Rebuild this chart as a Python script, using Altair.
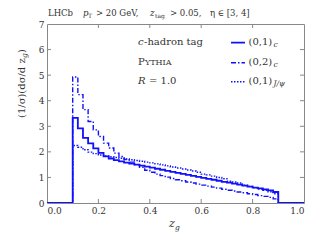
import altair as alt
import pandas as pd

# bin left edges 0.10 ... 0.88 (width 0.02)
edges = [round(0.10 + 0.02 * i, 2) for i in range(40)]
c01 = [3.33, 2.92, 2.55, 2.33, 2.14, 1.96, 1.82, 1.74, 1.68, 1.63,
       1.58, 1.54, 1.50, 1.46, 1.42, 1.38, 1.34, 1.30, 1.26, 1.22,
       1.18, 1.14, 1.10, 1.06, 1.02, 0.98, 0.94, 0.91, 0.87, 0.83,
       0.80, 0.76, 0.72, 0.68, 0.64, 0.60, 0.57, 0.53, 0.49, 0.43]
c02 = [4.93, 4.24, 3.65, 3.19, 2.86, 2.60, 2.34, 2.15, 1.95, 1.82,
       1.70, 1.60, 1.50, 1.40, 1.28, 1.20, 1.13, 1.07, 1.01, 0.96,
       0.91, 0.87, 0.82, 0.78, 0.74, 0.70, 0.66, 0.62, 0.58, 0.54,
       0.50, 0.47, 0.43, 0.40, 0.36, 0.33, 0.29, 0.26, 0.22, 0.16]
jpsi = [2.25, 2.18, 2.08, 1.99, 1.93, 1.88, 1.84, 1.81, 1.78, 1.75,
        1.72, 1.69, 1.66, 1.63, 1.60, 1.57, 1.53, 1.49, 1.45, 1.41,
        1.37, 1.33, 1.29, 1.25, 1.20, 1.13, 1.10, 1.05, 1.00, 0.95,
        0.85, 0.82, 0.78, 0.70, 0.65, 0.60, 0.55, 0.50, 0.44, 0.36]
series = ["(0,1)c", "(0,2)c", "(0,1)J/psi"]
xticks = [0.0, 0.2, 0.4, 0.6, 0.8, 1.0]
yticks = [0, 1, 2, 3, 4, 5, 6, 7]

W, H = 257, 179
BLUE = "#1010ff"
SERIF = "DejaVu Serif"
TXT = "#333333"

rows = []
for name, vals in zip(series, [c01, c02, jpsi]):
    rows.append({"s": name, "x": 0.0, "y": 0.0})
    for e, v in zip(edges, vals):
        rows.append({"s": name, "x": e, "y": v})
    rows.append({"s": name, "x": 0.9, "y": 0.0})
    rows.append({"s": name, "x": 1.0, "y": 0.0})
df = pd.DataFrame(rows)

xs = alt.Scale(domain=[0, 1], nice=False)
ys = alt.Scale(domain=[0, 7], nice=False)
xaxis = alt.Axis(values=xticks, format=".1f", title=None, tickSize=0,
                 labelPadding=3, domain=False, grid=False, labelOverlap=False)
yaxis = alt.Axis(values=yticks, format="d", title=None, tickSize=0,
                 labelPadding=3, domain=False, grid=False, labelOverlap=False)

dashes = {"(0,1)c": [1, 0], "(0,2)c": [5, 2, 1.5, 2], "(0,1)J/psi": [1.5, 1.5]}
widths = {"(0,1)c": 1.8, "(0,2)c": 1.4, "(0,1)J/psi": 1.4}

base = alt.Chart(df)
lines = []
for name in series:
    lines.append(
        base.transform_filter(alt.datum.s == name)
        .mark_line(interpolate="step-after", color=BLUE, strokeWidth=widths[name],
                   strokeDash=dashes[name], clip=True)
        .encode(
            x=alt.X("x:Q", scale=xs, axis=xaxis),
            y=alt.Y("y:Q", scale=ys, axis=yaxis),
        )
    )

# inward ticks on all four sides
tx = pd.DataFrame({"t": xticks[1:-1]})
ty = pd.DataFrame({"t": yticks[1:-1]})
tick_style = dict(color="#888888", strokeWidth=1)
ticks = [
    alt.Chart(tx).mark_rule(**tick_style).encode(x=alt.X("t:Q", scale=xs, axis=xaxis), y=alt.value(H), y2=alt.value(H - 4)),
    alt.Chart(tx).mark_rule(**tick_style).encode(x=alt.X("t:Q", scale=xs, axis=xaxis), y=alt.value(0), y2=alt.value(4)),
    alt.Chart(ty).mark_rule(**tick_style).encode(y=alt.Y("t:Q", scale=ys, axis=yaxis), x=alt.value(0), x2=alt.value(4)),
    alt.Chart(ty).mark_rule(**tick_style).encode(y=alt.Y("t:Q", scale=ys, axis=yaxis), x=alt.value(W), x2=alt.value(W - 4)),
]

# legend samples
leg = pd.DataFrame({"s": series})
leg_layers = []
for name, ly in zip(series, [18.7, 38.7, 57.7]):
    leg_layers.append(
        alt.Chart(leg).transform_filter(alt.datum.s == name)
        .mark_rule(color=BLUE, strokeWidth=widths[name], strokeDash=dashes[name])
        .encode(x=alt.value(184), x2=alt.value(198), y=alt.value(ly))
    )

def txt(text, x, y, size=10, style="normal", angle=0, align="left", baseline="middle"):
    return alt.Chart(pd.DataFrame({"t": [text]})).mark_text(
        font=SERIF, fontSize=size, fontStyle=style, angle=angle, align=align,
        baseline=baseline, color=TXT
    ).encode(text="t:N", x=alt.value(x), y=alt.value(y))

texts = [
    # top header
    txt("LHCb", 1, -8, size=8.5, baseline="alphabetic"),
    txt("p", 36, -8, size=8.5, style="italic", baseline="alphabetic"),
    txt("T", 41, -6, size=6, baseline="alphabetic"),
    txt("> 20 GeV,", 49, -8, size=8.5, baseline="alphabetic"),
    txt("z", 103, -8, size=8.5, style="italic", baseline="alphabetic"),
    txt("tag", 108, -6, size=6, baseline="alphabetic"),
    txt("> 0.05,", 123, -8, size=8.5, baseline="alphabetic"),
    txt("η ∈ [3, 4]", 163, -8, size=8.5, baseline="alphabetic"),
    # annotations
    txt("c", 91, 18, style="italic"),
    txt("-hadron tag", 97, 18),
    txt("P", 91, 38),
    txt("YTHIA", 98, 38.7, size=8),
    txt("R", 91, 57, style="italic"),
    txt("= 1.0", 102, 57),
    # legend labels
    txt("(0,1)", 201.5, 18),
    txt("c", 226.5, 21, size=7.5, style="italic"),
    txt("(0,2)", 201.5, 38),
    txt("c", 226.5, 41, size=7.5, style="italic"),
    txt("(0,1)", 201.5, 57),
    txt("J/ψ", 226.5, 60, size=7.5, style="italic"),
    # x title
    txt("z", 122, 203, size=11, style="italic", baseline="alphabetic"),
    txt("g", 128, 206, size=7.5, style="italic", baseline="alphabetic"),
    # y title
    txt("(1/σ)(dσ/d z", -25, 94, size=10, angle=270, align="left"),
    txt("g", -22, 34, size=7.5, style="italic", angle=270, align="left"),
    txt(")", -25, 29, size=10, angle=270, align="left"),
]

chart = alt.layer(*lines, *ticks, *leg_layers, *texts).properties(
    width=W, height=H,
    autosize=alt.AutoSizeParams(type="none"),
    padding={"left": 39, "top": 16, "right": 8, "bottom": 30},
).configure_view(stroke="#888888", strokeWidth=1).configure_axis(
    labelFont=SERIF, labelFontSize=9, labelColor=TXT
)

chart.save("out.html", embed_options={"renderer": "svg", "actions": False})
